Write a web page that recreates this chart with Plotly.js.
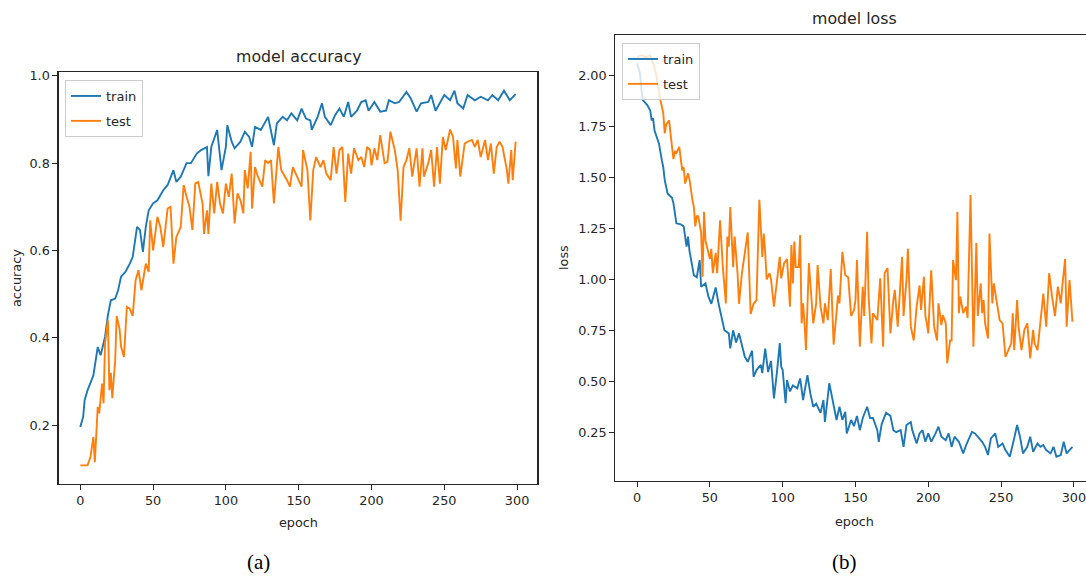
<!DOCTYPE html>
<html>
<head>
<meta charset="utf-8">
<script src="https://cdn.plot.ly/plotly-3.0.1.min.js"></script>
<style>html,body{margin:0;padding:0;background:#fff;}#chart{width:1086px;height:578px;}</style>
</head>
<body>
<div id="chart"></div>
<script>
// ---- data: model accuracy ----
var accTrainEpoch = [0,2,3,5,9,12,14,17,19,21,24,26,28,31,34,36,39,41,43,45,47,50,53,57,60,64,66,69,73,76,80,83,87,88,90,94,97,100,101,104,106,110,113,116,118,120,124,127,129,133,135,139,142,145,149,152,155,158,159,163,166,168,172,175,178,181,184,186,190,193,196,198,202,206,210,212,216,219,224,227,231,234,239,241,244,248,250,254,257,259,263,266,271,275,280,283,287,291,295,299];
var accTrain = [0.196,0.219,0.257,0.28,0.314,0.379,0.36,0.402,0.452,0.486,0.49,0.509,0.54,0.551,0.57,0.585,0.654,0.647,0.597,0.654,0.692,0.708,0.715,0.738,0.75,0.784,0.757,0.769,0.80,0.80,0.822,0.83,0.837,0.77,0.837,0.876,0.784,0.837,0.887,0.849,0.834,0.849,0.872,0.86,0.837,0.883,0.876,0.895,0.906,0.841,0.891,0.906,0.898,0.914,0.898,0.925,0.902,0.898,0.876,0.906,0.937,0.906,0.887,0.91,0.925,0.906,0.94,0.906,0.92,0.94,0.944,0.92,0.94,0.918,0.92,0.944,0.937,0.94,0.963,0.948,0.918,0.937,0.94,0.956,0.92,0.944,0.956,0.944,0.966,0.937,0.925,0.956,0.944,0.952,0.944,0.956,0.944,0.966,0.944,0.958];
var accTestEpoch = [0,5,7,9,10,12,13,15,16,17,19,20,21,22,24,25,27,28,30,32,34,36,38,40,42,45,47,48,50,53,55,57,60,62,64,66,69,71,73,75,77,79,81,84,85,87,88,90,92,94,96,98,100,102,104,106,108,110,112,113,115,117,118,120,122,125,127,129,131,133,136,138,142,144,146,149,152,153,156,158,160,162,165,167,169,172,174,176,178,180,182,184,186,188,191,193,195,197,199,200,202,204,206,209,211,213,216,218,220,222,224,226,228,231,233,235,236,239,241,243,245,247,249,251,254,256,258,259,261,264,266,269,271,273,275,278,280,282,284,286,288,290,293,294,296,297,299];
var accTest = [0.108,0.108,0.127,0.173,0.115,0.242,0.227,0.295,0.25,0.387,0.44,0.28,0.32,0.262,0.349,0.45,0.42,0.38,0.356,0.471,0.467,0.45,0.532,0.555,0.509,0.57,0.551,0.669,0.60,0.677,0.654,0.608,0.696,0.70,0.57,0.631,0.654,0.75,0.723,0.70,0.647,0.753,0.757,0.707,0.638,0.692,0.638,0.753,0.685,0.757,0.707,0.685,0.753,0.723,0.776,0.662,0.731,0.715,0.685,0.784,0.742,0.826,0.696,0.791,0.769,0.746,0.807,0.80,0.807,0.708,0.837,0.784,0.761,0.746,0.791,0.769,0.746,0.83,0.784,0.669,0.784,0.814,0.791,0.807,0.776,0.761,0.837,0.776,0.83,0.837,0.711,0.822,0.776,0.834,0.807,0.814,0.791,0.837,0.83,0.795,0.834,0.807,0.864,0.80,0.803,0.872,0.83,0.784,0.668,0.791,0.807,0.834,0.769,0.834,0.746,0.834,0.769,0.80,0.83,0.746,0.837,0.753,0.86,0.83,0.877,0.86,0.788,0.853,0.769,0.845,0.849,0.853,0.837,0.853,0.814,0.853,0.807,0.845,0.776,0.837,0.849,0.837,0.784,0.753,0.83,0.761,0.849];

// ---- data: model loss ----
var lossTrainEpoch = [0,2,3,4,7,9,10,11,12,15,17,18,19,21,24,25,27,30,32,34,35,36,39,41,43,44,47,49,51,54,56,58,60,63,64,66,68,70,72,74,76,79,80,82,85,86,88,90,92,94,96,98,99,100,102,103,105,107,110,112,114,117,119,121,123,126,128,129,132,135,137,139,141,143,144,147,149,151,153,155,158,160,162,165,166,168,171,174,176,178,181,183,185,188,189,192,194,196,198,200,202,205,207,209,212,214,216,218,221,224,226,230,232,234,237,239,241,243,246,248,251,253,256,259,261,263,265,268,270,272,275,277,279,281,284,286,288,291,293,295,297,299];
var lossTrain = [2.06,2.01,1.93,1.88,1.855,1.83,1.78,1.79,1.73,1.667,1.585,1.55,1.487,1.42,1.40,1.373,1.275,1.27,1.26,1.16,1.21,1.14,1.02,1.01,1.095,0.964,0.98,0.915,0.88,0.96,0.88,0.817,0.75,0.735,0.661,0.75,0.69,0.735,0.67,0.62,0.595,0.65,0.522,0.555,0.58,0.54,0.66,0.545,0.60,0.416,0.54,0.687,0.571,0.555,0.392,0.506,0.45,0.48,0.465,0.514,0.408,0.53,0.44,0.375,0.39,0.345,0.408,0.30,0.49,0.39,0.31,0.375,0.31,0.35,0.244,0.31,0.28,0.33,0.26,0.32,0.375,0.32,0.32,0.26,0.203,0.29,0.345,0.33,0.26,0.25,0.26,0.178,0.285,0.30,0.26,0.195,0.244,0.26,0.203,0.244,0.203,0.244,0.277,0.228,0.211,0.244,0.178,0.228,0.203,0.146,0.187,0.252,0.244,0.228,0.203,0.178,0.138,0.22,0.244,0.178,0.195,0.162,0.13,0.22,0.285,0.228,0.146,0.178,0.228,0.154,0.195,0.178,0.187,0.162,0.146,0.178,0.13,0.138,0.203,0.146,0.162,0.178];
var lossTestEpoch = [0,3,6,9,11,13,16,18,19,20,21,22,24,25,26,27,29,31,32,33,35,36,38,39,40,41,42,44,45,46,47,49,50,51,52,54,55,57,58,59,61,62,63,64,66,67,69,70,72,74,76,78,80,82,83,84,86,87,88,89,91,92,94,96,98,99,101,103,105,106,107,108,109,111,112,113,114,115,116,118,120,121,123,124,126,128,129,131,133,134,135,138,139,141,143,145,147,149,150,151,153,155,156,158,159,161,162,165,167,169,170,172,174,176,177,179,181,182,183,185,186,188,190,192,194,195,197,198,199,200,201,202,204,206,207,209,210,212,213,215,216,217,219,220,221,222,224,226,227,229,231,233,234,236,237,238,239,241,242,244,245,247,249,251,253,255,257,258,259,261,262,264,266,268,270,272,273,275,277,279,281,283,285,287,289,291,292,294,295,297,299];
var lossTest = [2.09,2.10,2.09,2.10,2.06,2.01,1.88,1.815,1.716,1.76,1.77,1.78,1.65,1.59,1.63,1.62,1.65,1.535,1.55,1.47,1.52,1.49,1.39,1.355,1.26,1.31,1.31,1.23,1.013,1.332,1.19,1.13,1.10,1.15,1.03,1.13,1.03,1.29,1.16,1.05,0.882,1.21,1.16,1.355,1.06,1.21,1.03,0.88,1.03,1.12,1.23,0.83,0.88,0.898,1.13,1.39,1.11,1.225,1.13,1.0,1.03,1.0,0.866,0.98,1.11,1.005,1.08,1.10,0.866,1.168,0.98,1.185,1.06,1.06,1.217,0.784,0.882,0.784,0.653,1.08,0.85,0.784,0.882,1.07,0.866,0.784,0.882,0.80,1.05,0.882,0.68,0.92,0.882,1.135,1.02,1.01,0.82,0.85,0.898,1.095,0.67,0.964,0.82,1.234,0.915,0.686,0.834,0.80,1.005,0.67,1.03,1.055,0.735,0.898,0.948,0.768,0.98,1.11,0.82,0.996,1.15,0.768,0.70,0.866,0.97,0.85,1.013,0.82,0.784,0.735,0.898,1.045,0.768,0.70,0.882,0.776,0.825,0.784,0.588,0.70,0.70,1.095,0.996,1.332,0.834,0.915,0.834,0.866,0.81,1.414,0.67,1.178,0.82,0.98,0.834,0.898,0.784,0.71,1.225,0.882,0.98,0.882,0.80,0.784,0.62,0.653,0.686,0.834,0.653,0.898,0.768,0.653,0.752,0.784,0.612,0.752,0.686,0.653,0.792,0.93,0.768,1.03,0.915,0.82,0.964,0.882,0.964,1.10,0.768,0.996,0.792];

var xTicks = [0,50,100,150,200,250,300];
var accTicks = [0.2,0.4,0.6,0.8,1.0];
var accTickText = ['0.2','0.4','0.6','0.8','1.0'];
var lossTicks = [0.25,0.5,0.75,1.0,1.25,1.5,1.75,2.0];
var lossTickText = ['0.25','0.50','0.75','1.00','1.25','1.50','1.75','2.00'];
var seriesNames = ['train','test'];

// ---- layout helpers ----
var W = 1086, H = 578;
function px(x){ return x / W; }
function py(y){ return 1 - y / H; }
var BLUE = '#1f77b4', ORANGE = '#ff7f0e';
var FONT = 'DejaVu Sans, Verdana, sans-serif';
var tickFont = {family: FONT, size: 12.8, color: '#262626'};

function axisBase(){
  return {
    showline: true, linecolor: '#262626', linewidth: 1.1,
    ticks: 'outside', ticklen: 5, tickwidth: 1.1, tickcolor: '#262626',
    showgrid: false, zeroline: false, tickfont: tickFont,
    fixedrange: true, tickmode: 'array', ticklabeloverflow: 'allow'
  };
}

var LW = 1.9;
var traces = [
  {x: accTrainEpoch, y: accTrain, name: seriesNames[0], type: 'scatter', mode: 'lines',
   line: {color: BLUE, width: LW}, xaxis: 'x', yaxis: 'y', legend: 'legend', legendgroup: 'a1'},
  {x: accTestEpoch, y: accTest, name: seriesNames[1], type: 'scatter', mode: 'lines',
   line: {color: ORANGE, width: LW}, xaxis: 'x', yaxis: 'y', legend: 'legend', legendgroup: 'a2'},
  {x: lossTrainEpoch, y: lossTrain, name: seriesNames[0], type: 'scatter', mode: 'lines',
   line: {color: BLUE, width: LW}, xaxis: 'x2', yaxis: 'y2', legend: 'legend2', legendgroup: 'b1'},
  {x: lossTestEpoch, y: lossTest, name: seriesNames[1], type: 'scatter', mode: 'lines',
   line: {color: ORANGE, width: LW}, xaxis: 'x2', yaxis: 'y2', legend: 'legend2', legendgroup: 'b2'}
];

var xa = axisBase(); xa.domain = [px(58.5), px(537.4)]; xa.range = [-14.95, 313.95];
xa.tickvals = xTicks; xa.ticktext = xTicks.map(String); xa.mirror = true; xa.anchor = 'y';
var ya = axisBase(); ya.domain = [py(483.7), py(72.3)]; ya.range = [0.066, 1.008];
ya.tickvals = accTicks; ya.ticktext = accTickText; ya.mirror = true; ya.anchor = 'x';
var xa2 = axisBase(); xa2.domain = [px(615.3), 1]; xa2.range = [-14.95, (1086 - 637.1) / 1.456];
xa2.tickvals = xTicks; xa2.ticktext = xTicks.map(String); xa2.mirror = true; xa2.anchor = 'y2';
var ya2 = axisBase(); ya2.domain = [py(480.5), py(35)]; ya2.range = [0.013, 2.199];
ya2.tickvals = lossTicks; ya2.ticktext = lossTickText; ya2.mirror = false; ya2.anchor = 'x2';

function ann(text, x, y, size, opts){
  var a = {text: text, x: px(x), y: py(y), xref: 'paper', yref: 'paper',
    xanchor: 'center', yanchor: 'middle', showarrow: false,
    font: {family: FONT, size: size, color: '#262626'}};
  if (opts) for (var k in opts) a[k] = opts[k];
  return a;
}
var SERIF = 'Liberation Serif, Times New Roman, serif';

var legendBase = {
  bgcolor: 'rgba(255,255,255,0.8)', bordercolor: '#cccccc', borderwidth: 1,
  font: {family: FONT, size: 13, color: '#262626'},
  xanchor: 'left', yanchor: 'top', traceorder: 'grouped', tracegroupgap: 5
};
var leg1 = JSON.parse(JSON.stringify(legendBase)); leg1.x = px(65); leg1.y = py(80);
var leg2 = JSON.parse(JSON.stringify(legendBase)); leg2.x = px(622); leg2.y = py(43);

var layout = {
  width: W, height: H,
  margin: {l: 0, r: 0, t: 0, b: 0, pad: 0},
  paper_bgcolor: '#ffffff', plot_bgcolor: '#ffffff',
  showlegend: true,
  legend: leg1, legend2: leg2,
  xaxis: xa, yaxis: ya, xaxis2: xa2, yaxis2: ya2,
  annotations: [
    ann('model accuracy', 298, 56, 15.8),
    ann('model loss', 854.7, 18, 15.8),
    ann('epoch', 298, 522, 12.8),
    ann('epoch', 854.7, 521, 12.8),
    ann('accuracy', 16, 278, 12.8, {textangle: -90}),
    ann('loss', 563, 258, 12.8, {textangle: -90}),
    {text: '(a)', x: px(258), y: py(562), xref: 'paper', yref: 'paper', showarrow: false,
     xanchor: 'center', yanchor: 'middle', font: {family: SERIF, size: 21, color: '#000'}},
    {text: '(b)', x: px(844), y: py(562), xref: 'paper', yref: 'paper', showarrow: false,
     xanchor: 'center', yanchor: 'middle', font: {family: SERIF, size: 21, color: '#000'}}
  ]
};

Plotly.newPlot('chart', traces, layout, {displayModeBar: false, staticPlot: true});
</script>
</body>
</html>
